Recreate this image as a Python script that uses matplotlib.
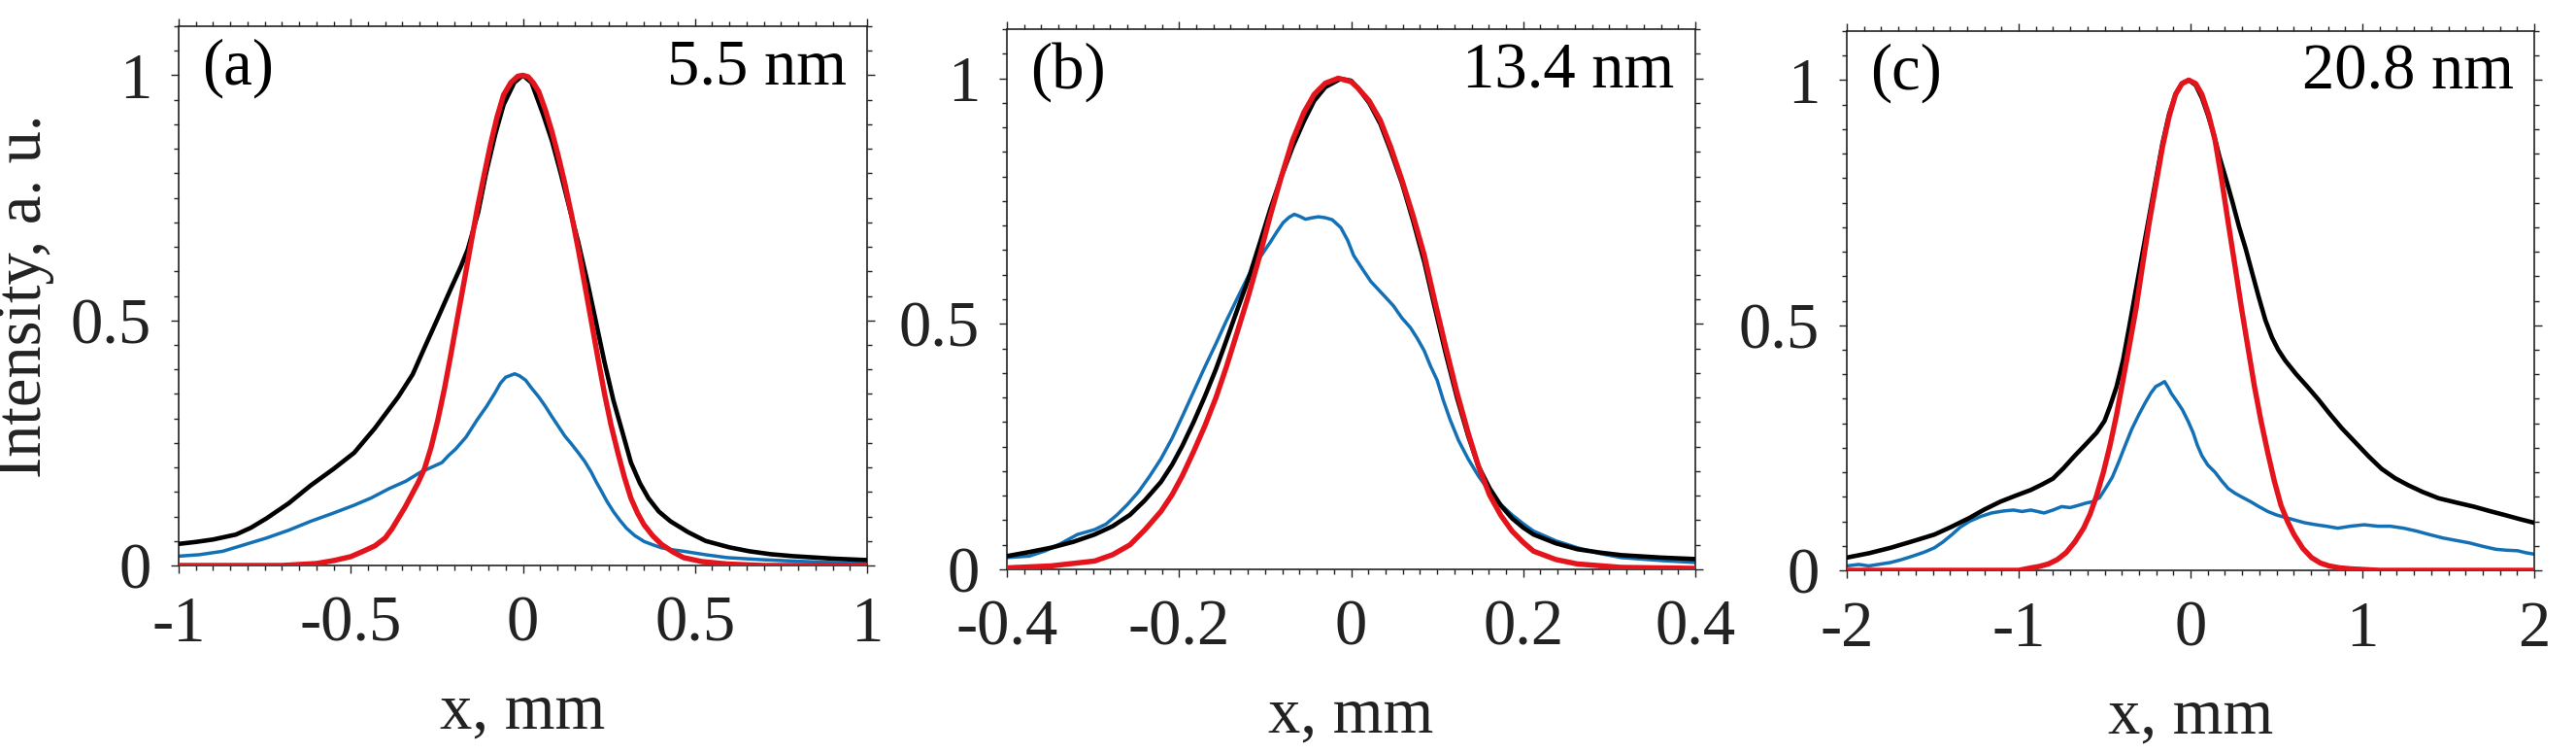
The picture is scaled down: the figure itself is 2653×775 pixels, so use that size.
import matplotlib
matplotlib.use("Agg")
import matplotlib.pyplot as plt
from matplotlib.ticker import MultipleLocator

plt.rcParams['font.family'] = ['Liberation Serif', 'DejaVu Serif']
plt.rcParams['axes.unicode_minus'] = False

# ---------------- data ----------------
# Panel (a) 5.5 nm
a_black_x = [-1.0, -0.95, -0.9, -0.834, -0.79, -0.745, -0.68, -0.617, -0.55, -0.49, -0.43, -0.362, -0.32, -0.286,
             -0.25, -0.209, -0.18, -0.16, -0.13, -0.107, -0.08, -0.056, -0.025, 0.0, 0.025, 0.059, 0.085, 0.11,
             0.135, 0.161, 0.187, 0.212, 0.237, 0.263, 0.29, 0.314, 0.34, 0.365, 0.395, 0.429, 0.48, 0.531,
             0.6, 0.658, 0.72, 0.786, 0.9, 1.0]
a_black_y = [0.044, 0.048, 0.053, 0.063, 0.077, 0.096, 0.127, 0.163, 0.197, 0.230, 0.28, 0.344, 0.39, 0.444,
             0.5, 0.565, 0.61, 0.645, 0.72, 0.80, 0.88, 0.94, 0.985, 1.0, 0.985, 0.92, 0.865, 0.80,
             0.73, 0.659, 0.58, 0.498, 0.415, 0.337, 0.27, 0.21, 0.168, 0.137, 0.11, 0.09, 0.068, 0.05,
             0.037, 0.029, 0.023, 0.019, 0.014, 0.011]
a_red_x = [-1.0, -0.7, -0.6, -0.55, -0.5, -0.464, -0.43, -0.4, -0.38, -0.362, -0.343, -0.324, -0.305, -0.286,
           -0.267, -0.247, -0.228, -0.209, -0.19, -0.171, -0.152, -0.133, -0.113, -0.094, -0.075, -0.056,
           -0.035, -0.015, 0.0, 0.015, 0.03, 0.046, 0.065, 0.084, 0.103, 0.122, 0.142, 0.161, 0.18, 0.199,
           0.218, 0.237, 0.256, 0.276, 0.295, 0.314, 0.333, 0.352, 0.378, 0.403, 0.435, 0.467, 0.52, 0.594,
           0.7, 1.0]
a_red_y = [0.0, 0.0, 0.004, 0.01, 0.018, 0.029, 0.04, 0.056, 0.075, 0.096, 0.118, 0.143, 0.168, 0.197,
           0.24, 0.297, 0.36, 0.431, 0.505, 0.578, 0.652, 0.726, 0.795, 0.859, 0.915, 0.96,
           0.985, 0.998, 1.0, 0.997, 0.985, 0.967, 0.93, 0.886, 0.835, 0.779, 0.713, 0.645, 0.572, 0.498,
           0.423, 0.351, 0.287, 0.23, 0.18, 0.137, 0.107, 0.083, 0.06, 0.043, 0.028, 0.016, 0.008, 0.003,
           0.0, 0.0]
a_blue_x = [-1.0, -0.94, -0.872, -0.82, -0.745, -0.68, -0.617, -0.55, -0.49, -0.44, -0.388, -0.34, -0.298,
            -0.26, -0.235, -0.215, -0.196, -0.165, -0.133, -0.105, -0.082, -0.065, -0.05, -0.035, -0.024,
            -0.01, 0.008, 0.025, 0.046, 0.065, 0.084, 0.103, 0.122, 0.141, 0.161, 0.18, 0.199, 0.212, 0.224,
            0.245, 0.263, 0.282, 0.301, 0.325, 0.352, 0.378, 0.403, 0.435, 0.467, 0.53, 0.594, 0.69, 0.786,
            0.9, 1.0]
a_blue_y = [0.019, 0.022, 0.029, 0.04, 0.056, 0.072, 0.09, 0.107, 0.123, 0.138, 0.157, 0.172, 0.19,
            0.202, 0.21, 0.225, 0.237, 0.262, 0.297, 0.325, 0.351, 0.372, 0.384, 0.388, 0.391,
            0.387, 0.378, 0.362, 0.344, 0.325, 0.304, 0.284, 0.264, 0.248, 0.23, 0.212, 0.19, 0.172, 0.157,
            0.13, 0.11, 0.092, 0.076, 0.061, 0.049, 0.042, 0.036, 0.032, 0.029, 0.022, 0.016, 0.012, 0.009,
            0.006, 0.004]

# Panel (b) 13.4 nm
b_black_x = [-0.4, -0.375, -0.349, -0.323, -0.298, -0.277, -0.257, -0.24, -0.221, -0.208, -0.196, -0.183,
             -0.170, -0.157, -0.145, -0.132, -0.119, -0.106, -0.094, -0.081, -0.068, -0.055, -0.043, -0.03,
             -0.012, 0.0, 0.008, 0.021, 0.034, 0.046, 0.059, 0.072, 0.085, 0.097, 0.110, 0.123, 0.136, 0.148,
             0.161, 0.174, 0.187, 0.2, 0.212, 0.238, 0.263, 0.29, 0.314, 0.36, 0.4]
b_black_y = [0.027, 0.035, 0.044, 0.056, 0.071, 0.088, 0.111, 0.14, 0.178, 0.213, 0.252, 0.3,
             0.352, 0.408, 0.466, 0.53, 0.593, 0.665, 0.733, 0.80, 0.86, 0.912, 0.954, 0.982,
             0.999, 0.995, 0.98, 0.95, 0.907, 0.852, 0.787, 0.71, 0.626, 0.535, 0.439, 0.35, 0.272, 0.21,
             0.165, 0.13, 0.104, 0.085, 0.071, 0.053, 0.041, 0.034, 0.029, 0.024, 0.021]
b_red_x = [-0.4, -0.349, -0.298, -0.277, -0.257, -0.24, -0.221, -0.208, -0.196, -0.183, -0.170, -0.157,
           -0.145, -0.132, -0.119, -0.106, -0.094, -0.081, -0.068, -0.055, -0.043, -0.03, -0.015, 0.0, 0.008,
           0.021, 0.034, 0.046, 0.059, 0.072, 0.085, 0.097, 0.110, 0.123, 0.136, 0.148, 0.161, 0.174, 0.187,
           0.2, 0.212, 0.238, 0.263, 0.314, 0.4]
b_red_y = [0.003, 0.007, 0.017, 0.03, 0.05, 0.08, 0.118, 0.152, 0.191, 0.24, 0.292, 0.35,
           0.412, 0.485, 0.559, 0.64, 0.72, 0.80, 0.874, 0.93, 0.967, 0.99, 1.0, 0.993, 0.98,
           0.954, 0.914, 0.86, 0.793, 0.72, 0.64, 0.548, 0.452, 0.36, 0.278, 0.21, 0.151, 0.11, 0.078,
           0.055, 0.037, 0.02, 0.011, 0.004, 0.002]
b_blue_x = [-0.4, -0.374, -0.355, -0.339, -0.318, -0.298, -0.285, -0.272, -0.26, -0.247, -0.234, -0.221,
            -0.208, -0.196, -0.183, -0.170, -0.157, -0.145, -0.132, -0.119, -0.106, -0.094, -0.086, -0.079,
            -0.072, -0.066, -0.06, -0.053, -0.045, -0.038, -0.03, -0.022, -0.012, -0.004, 0.003, 0.013,
            0.023, 0.039, 0.049, 0.059, 0.069, 0.077, 0.085, 0.092, 0.100, 0.107, 0.115, 0.125, 0.136,
            0.148, 0.161, 0.174, 0.187, 0.2, 0.212, 0.238, 0.263, 0.29, 0.314, 0.36, 0.4]
b_blue_y = [0.024, 0.027, 0.038, 0.051, 0.071, 0.081, 0.092, 0.111, 0.132, 0.158, 0.19, 0.225,
            0.267, 0.312, 0.362, 0.412, 0.46, 0.506, 0.553, 0.599, 0.635, 0.666, 0.688, 0.706,
            0.717, 0.723, 0.719, 0.713, 0.716, 0.718, 0.716, 0.712, 0.696, 0.67, 0.639, 0.612,
            0.586, 0.556, 0.537, 0.512, 0.492, 0.47, 0.445, 0.415, 0.385, 0.345, 0.305, 0.262, 0.225,
            0.19, 0.158, 0.132, 0.111, 0.093, 0.078, 0.058, 0.044, 0.032, 0.024, 0.018, 0.014]

# Panel (c) 20.8 nm
c_black_x = [-2.0, -1.87, -1.745, -1.62, -1.49, -1.39, -1.286, -1.2, -1.107, -1.02, -0.929, -0.865, -0.801,
             -0.74, -0.673, -0.61, -0.546, -0.5, -0.469, -0.43, -0.393, -0.355, -0.316, -0.278, -0.24, -0.2,
             -0.163, -0.125, -0.087, -0.05, -0.01, 0.03, 0.066, 0.1, 0.135, 0.168, 0.205, 0.245, 0.283,
             0.321, 0.36, 0.398, 0.436, 0.474, 0.51, 0.551, 0.615, 0.679, 0.745, 0.806, 0.88, 0.959, 1.035,
             1.112, 1.19, 1.265, 1.35, 1.444, 1.55, 1.648, 1.74, 1.827, 1.91, 2.0]
c_black_y = [0.026, 0.035, 0.046, 0.059, 0.073, 0.089, 0.107, 0.124, 0.14, 0.152, 0.164, 0.175, 0.187,
             0.208, 0.234, 0.257, 0.281, 0.305, 0.334, 0.375, 0.428, 0.5, 0.576, 0.65, 0.723, 0.8,
             0.871, 0.93, 0.971, 0.993, 1.0, 0.99, 0.964, 0.93, 0.89, 0.844, 0.8, 0.75, 0.70,
             0.656, 0.605, 0.556, 0.51, 0.475, 0.45, 0.428, 0.4, 0.375, 0.348, 0.321, 0.29, 0.261, 0.233,
             0.207, 0.188, 0.174, 0.16, 0.147, 0.138, 0.13, 0.121, 0.113, 0.105, 0.097]
c_red_x = [-2.0, -1.0, -0.929, -0.88, -0.827, -0.775, -0.724, -0.673, -0.622, -0.584, -0.546, -0.507, -0.469,
           -0.43, -0.393, -0.355, -0.316, -0.278, -0.24, -0.2, -0.163, -0.125, -0.087, -0.05, -0.01, 0.03,
           0.066, 0.105, 0.143, 0.18, 0.219, 0.257, 0.296, 0.334, 0.372, 0.41, 0.449, 0.487, 0.526, 0.564,
           0.602, 0.653, 0.704, 0.755, 0.806, 0.87, 0.934, 1.1, 2.0]
c_red_y = [0.0, 0.0, 0.005, 0.008, 0.013, 0.022, 0.036, 0.058, 0.086, 0.115, 0.153, 0.2, 0.254,
           0.318, 0.388, 0.46, 0.536, 0.625, 0.71, 0.79, 0.864, 0.925, 0.971, 0.993, 1.0, 0.993,
           0.971, 0.93, 0.877, 0.80, 0.71, 0.625, 0.536, 0.455, 0.375, 0.305, 0.241, 0.183, 0.133, 0.1,
           0.073, 0.045, 0.026, 0.015, 0.009, 0.005, 0.003, 0.0, 0.0]
c_blue_x = [-2.0, -1.93, -1.872, -1.8, -1.745, -1.68, -1.617, -1.55, -1.49, -1.44, -1.388, -1.34, -1.286,
            -1.22, -1.158, -1.09, -1.031, -0.98, -0.929, -0.89, -0.852, -0.8, -0.75, -0.7, -0.648, -0.61,
            -0.571, -0.53, -0.495, -0.455, -0.418, -0.38, -0.342, -0.3, -0.265, -0.23, -0.202, -0.175,
            -0.151, -0.13, -0.112, -0.08, -0.048, -0.015, 0.015, 0.04, 0.066, 0.1, 0.143, 0.18, 0.219,
            0.26, 0.296, 0.35, 0.398, 0.45, 0.5, 0.55, 0.602, 0.665, 0.73, 0.79, 0.857, 0.93, 1.01, 1.09,
            1.163, 1.24, 1.316, 1.39, 1.469, 1.545, 1.622, 1.7, 1.776, 1.84, 1.903, 1.95, 2.0]
c_blue_y = [0.009, 0.012, 0.009, 0.013, 0.016, 0.022, 0.029, 0.037, 0.046, 0.058, 0.073, 0.088, 0.1,
            0.11, 0.117, 0.121, 0.123, 0.12, 0.123, 0.12, 0.117, 0.123, 0.13, 0.128, 0.133, 0.137,
            0.14, 0.148, 0.167, 0.19, 0.221, 0.255, 0.288, 0.318, 0.341, 0.362, 0.375, 0.38,
            0.385, 0.373, 0.361, 0.345, 0.328, 0.305, 0.281, 0.255, 0.234, 0.215, 0.2, 0.183, 0.167,
            0.157, 0.15, 0.14, 0.13, 0.12, 0.113, 0.108, 0.103, 0.097, 0.093, 0.09, 0.086, 0.09, 0.093, 0.09,
            0.09, 0.086, 0.08, 0.073, 0.066, 0.061, 0.056, 0.049, 0.043, 0.041, 0.04, 0.036, 0.033]

panel_tags = ['(a)', '(b)', '(c)']
panel_waves = ['5.5 nm', '13.4 nm', '20.8 nm']
x_limits = [(-1, 1), (-0.4, 0.4), (-2, 2)]
x_ticks = [[-1, -0.5, 0, 0.5, 1], [-0.4, -0.2, 0, 0.2, 0.4], [-2, -1, 0, 1, 2]]
x_ticklabels = [['-1', '-0.5', '0', '0.5', '1'], ['-0.4', '-0.2', '0', '0.2', '0.4'], ['-2', '-1', '0', '1', '2']]
x_minor = [0.05, 0.02, 0.1]
y_ticks = [0, 0.5, 1]
y_ticklabels = ['0', '0.5', '1']

blacks = [(a_black_x, a_black_y), (b_black_x, b_black_y), (c_black_x, c_black_y)]
blues = [(a_blue_x, a_blue_y), (b_blue_x, b_blue_y), (c_blue_x, c_blue_y)]
reds = [(a_red_x, a_red_y), (b_red_x, b_red_y), (c_red_x, c_red_y)]

# ---------------- figure ----------------
W, H = 2653, 775
fig = plt.figure(figsize=(W / 100, H / 100), dpi=100)
boxes = [(184, 27, 893, 582), (1037, 30, 1746, 586), (1902, 32, 2610, 587)]

BLUE = '#1370b5'
RED = '#e3141b'
FS = 48

for i, (l, t, r, b) in enumerate(boxes):
    ax = fig.add_axes([l / W, 1 - b / H, (r - l) / W, (b - t) / H])
    bx, by = blues[i]
    kx, ky = blacks[i]
    rx, ry = reds[i]
    ax.plot(kx, ky, color='black', lw=3.3, solid_joinstyle='round', solid_capstyle='round', zorder=3)
    ax.plot(bx, by, color=BLUE, lw=2.5, solid_joinstyle='round', zorder=2)
    ax.plot(rx, ry, color=RED, lw=3.9, solid_joinstyle='round', solid_capstyle='round', zorder=4)
    ax.set_xlim(*x_limits[i])
    ax.set_ylim(0, 1.1)
    ax.set_xticks(x_ticks[i])
    ax.set_xticklabels(x_ticklabels[i])
    ax.set_yticks(y_ticks)
    ax.set_yticklabels(y_ticklabels)
    ax.xaxis.set_minor_locator(MultipleLocator(x_minor[i]))
    ax.yaxis.set_minor_locator(MultipleLocator(0.05))
    ax.tick_params(which='both', direction='out', top=True, right=True, width=1.0, color='#222222')
    ax.tick_params(which='major', length=6)
    ax.tick_params(which='minor', length=3.5)
    ax.tick_params(axis='x', which='major', labelsize=FS, pad=16, labelcolor='#222222')
    ax.tick_params(axis='y', which='major', labelsize=FS, pad=14, labelcolor='#222222')
    for s in ax.spines.values():
        s.set_linewidth(1.2)
        s.set_color('#222222')
    ax.set_xlabel('x, mm', fontsize=FS, labelpad=21, color='#222222')
    if i == 0:
        ax.set_ylabel('Intensity, a. u.', fontsize=FS, labelpad=12, color='#222222')
    ax.text(0.034, 0.892, panel_tags[i], transform=ax.transAxes, fontsize=FS, ha='left', va='baseline')
    ax.text(0.970, 0.892, panel_waves[i], transform=ax.transAxes, fontsize=FS, ha='right', va='baseline')

fig.savefig('out.png', dpi=100)
